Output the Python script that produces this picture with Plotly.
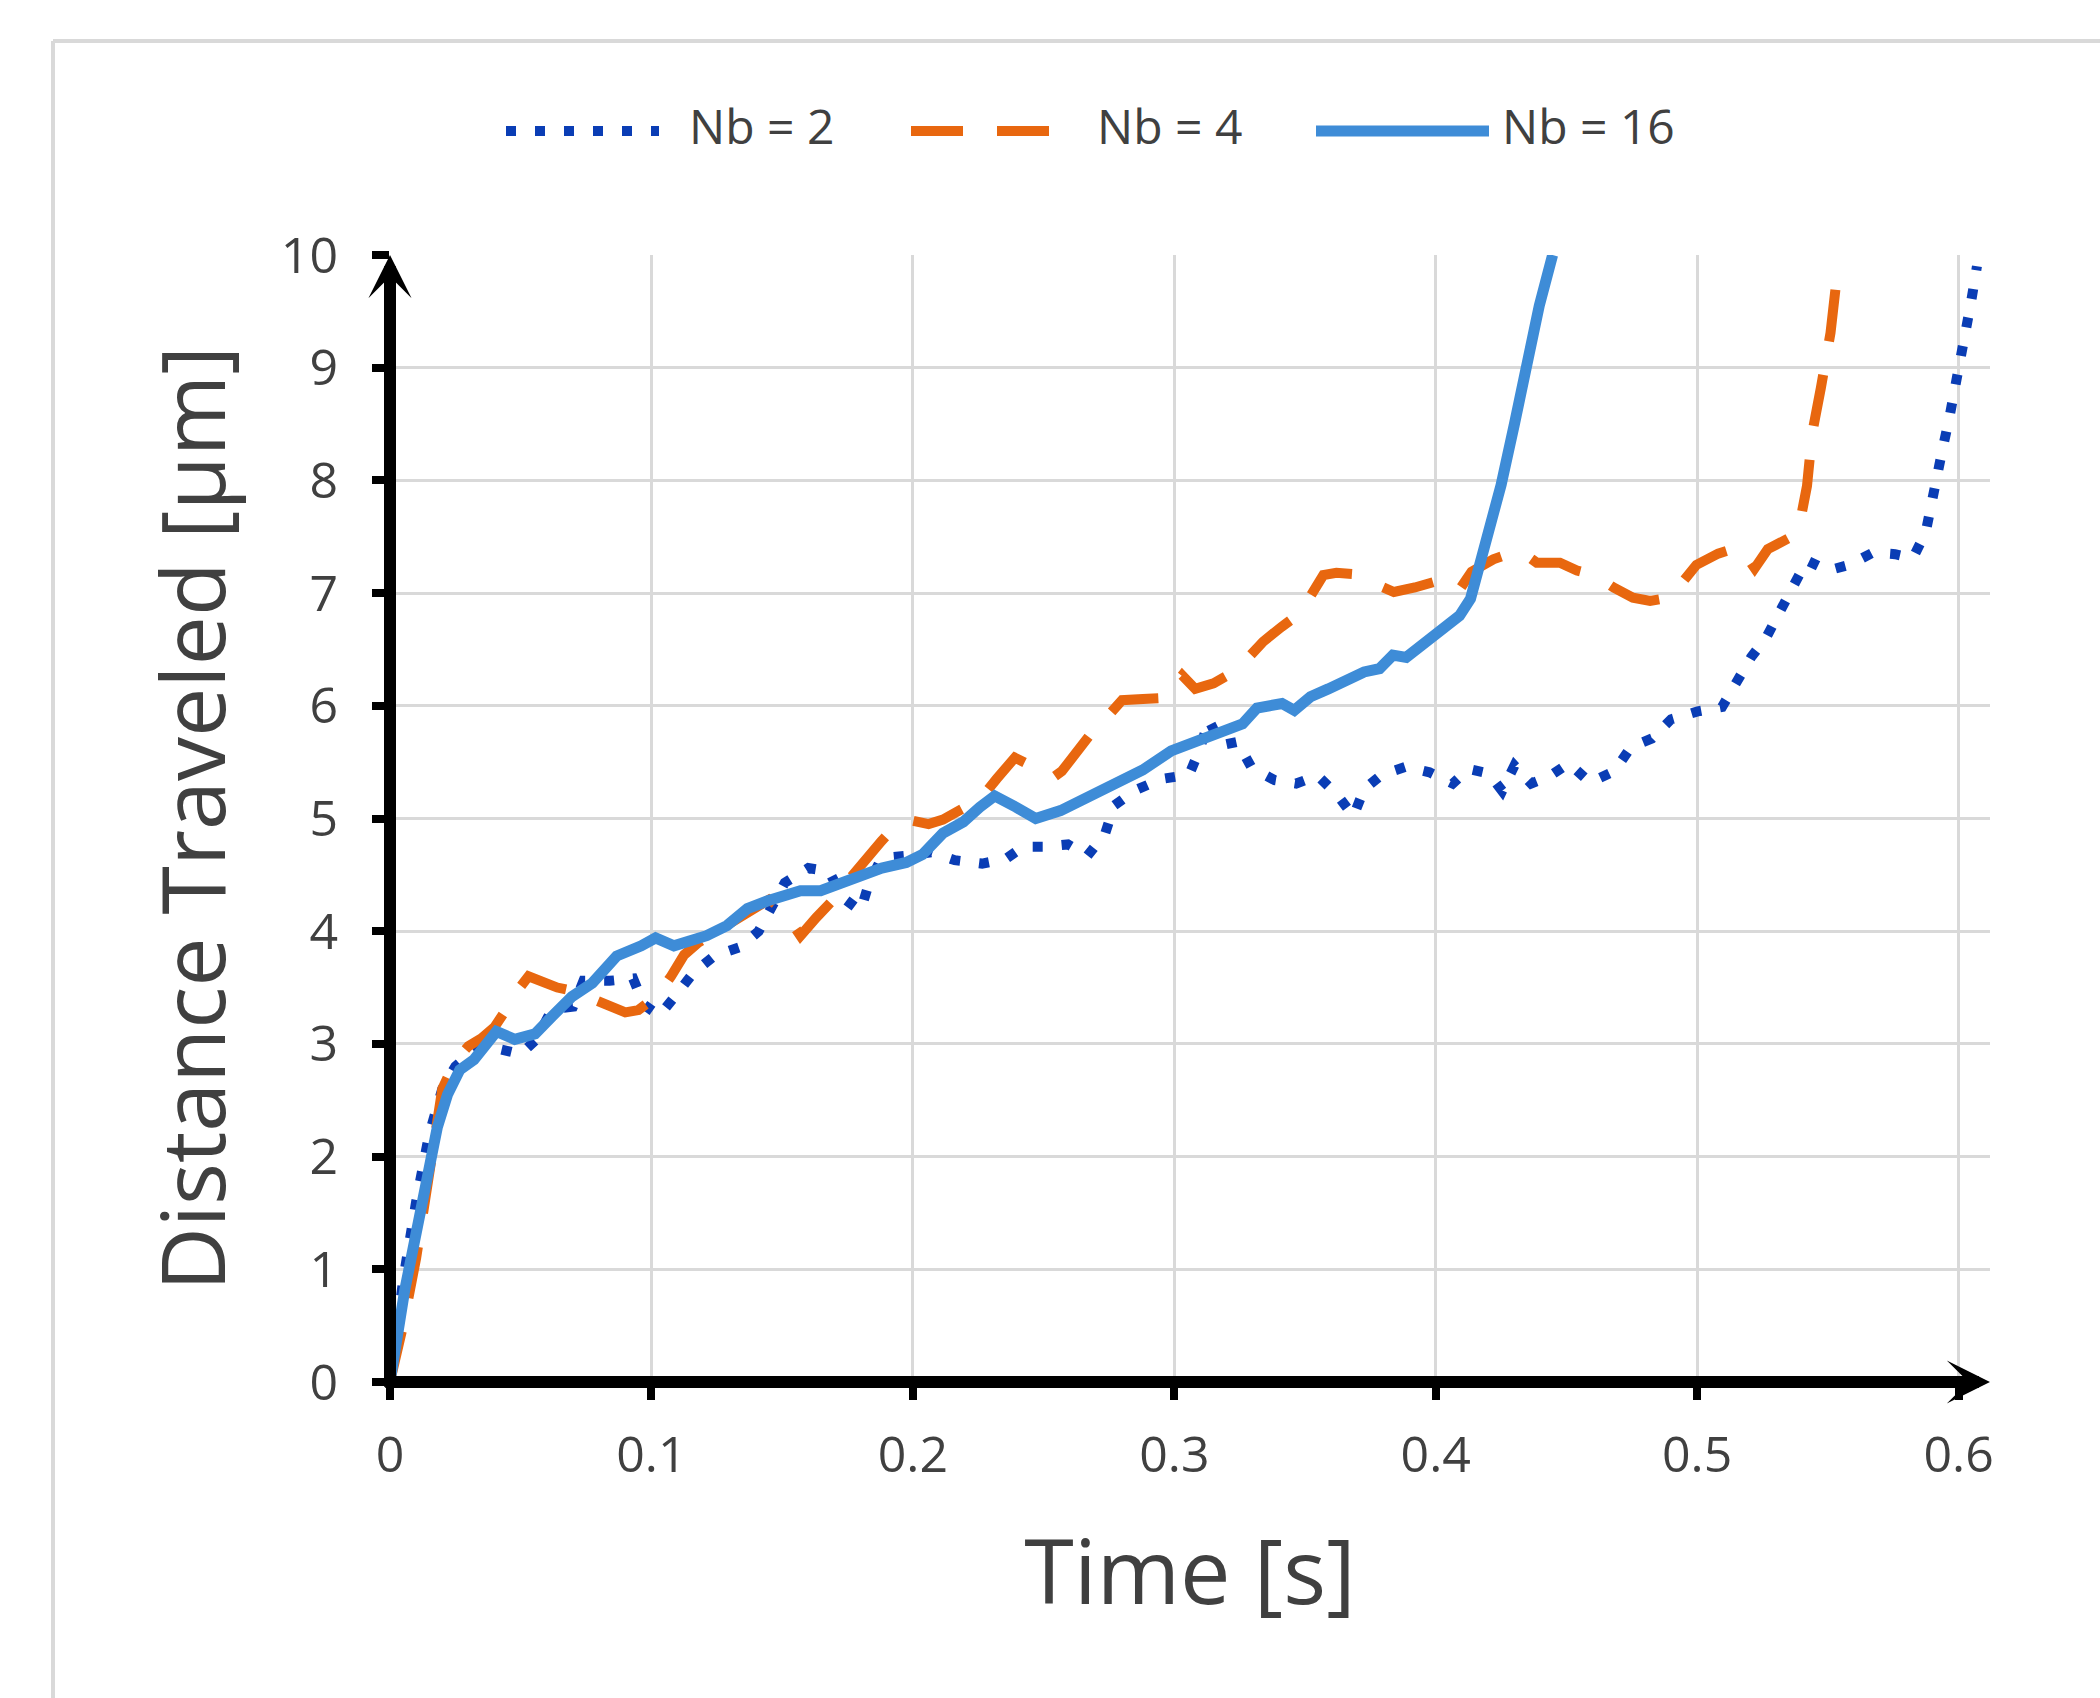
import plotly.graph_objects as go

# ---------------- data ----------------
t_nb2 = [0, 0.005, 0.01, 0.015, 0.02, 0.025, 0.03, 0.035, 0.039, 0.050, 0.056, 0.062, 0.070,
         0.074, 0.084, 0.093, 0.097, 0.103, 0.110, 0.116, 0.124, 0.134, 0.141, 0.146, 0.151,
         0.160, 0.168, 0.173, 0.180, 0.183, 0.188, 0.198, 0.207, 0.216, 0.2265, 0.2354, 0.2422,
         0.2504, 0.2593, 0.2668, 0.2736, 0.277, 0.285, 0.295, 0.3057, 0.3098, 0.3132, 0.318,
         0.3241, 0.3296, 0.3384, 0.3466, 0.3548, 0.3623, 0.3685, 0.3726, 0.3794, 0.3887, 0.3976,
         0.4065, 0.4126, 0.4203, 0.4254, 0.4301, 0.4365, 0.4432, 0.4509, 0.459, 0.4683, 0.4747,
         0.4827, 0.49, 0.5002, 0.5095, 0.5151, 0.5206, 0.5265, 0.5314, 0.5367, 0.542, 0.5501,
         0.5581, 0.5673, 0.5757, 0.5825, 0.5874, 0.5899, 0.5922, 0.594, 0.5964, 0.5986, 0.6005,
         0.6024, 0.6045, 0.6064, 0.607]
d_nb2 = [0, 0.9, 1.6, 2.2, 2.6, 2.8, 2.9, 2.97, 2.97, 2.91, 3.04, 3.31, 3.33,
         3.56, 3.56, 3.58, 3.35, 3.25, 3.45, 3.63, 3.78, 3.86, 4.0, 4.2, 4.43,
         4.56, 4.53, 4.30, 4.18, 4.41, 4.65, 4.67, 4.7, 4.63, 4.6, 4.64, 4.75,
         4.75, 4.77, 4.67, 4.87, 5.115, 5.25, 5.35, 5.39, 5.62, 5.875, 5.65,
         5.68, 5.45, 5.34, 5.31, 5.38, 5.21, 5.02, 5.26, 5.39, 5.46, 5.41,
         5.31, 5.44, 5.40, 5.245, 5.47, 5.31, 5.37, 5.49, 5.32, 5.42, 5.635,
         5.71, 5.88, 5.95, 5.99, 6.22, 6.43, 6.61, 6.85, 7.06, 7.29, 7.20,
         7.25, 7.36, 7.345, 7.31, 7.54, 7.79, 8.04, 8.295, 8.55, 8.80, 9.04,
         9.30, 9.55, 9.81, 9.9]

t_nb4 = [0, 0.005, 0.01, 0.015, 0.02, 0.025, 0.03, 0.035, 0.04, 0.044, 0.048, 0.053, 0.058,
         0.064, 0.07, 0.078, 0.085, 0.09, 0.095, 0.1, 0.1024, 0.1075, 0.1125, 0.118, 0.125,
         0.132, 0.138, 0.145, 0.15, 0.153, 0.157, 0.163, 0.170, 0.176, 0.182, 0.188, 0.194,
         0.2, 0.206, 0.2115, 0.2185, 0.2257, 0.232, 0.239, 0.246, 0.254, 0.257, 0.263, 0.269,
         0.275, 0.280, 0.288, 0.296, 0.303, 0.308, 0.315, 0.322, 0.328, 0.334, 0.341, 0.348,
         0.357, 0.362, 0.368, 0.376, 0.384, 0.392, 0.401, 0.4085, 0.4137, 0.422, 0.432, 0.4386,
         0.4475, 0.454, 0.4608, 0.468, 0.4754, 0.482, 0.4895, 0.4997, 0.508, 0.5163, 0.522,
         0.527, 0.533, 0.5385, 0.542, 0.544, 0.5473, 0.551, 0.553, 0.555]
d_nb4 = [0, 0.5, 1.1, 1.9, 2.6, 2.85, 2.98, 3.05, 3.15, 3.29, 3.45, 3.6, 3.55,
         3.5, 3.47, 3.4, 3.33, 3.28, 3.3, 3.38, 3.43, 3.6, 3.79, 3.9, 4.0,
         4.1, 4.2, 4.28, 4.2, 4.1, 3.96, 4.12, 4.29, 4.47, 4.65, 4.8, 4.95,
         4.98, 4.95, 4.99, 5.08, 5.17, 5.35, 5.54, 5.46, 5.37, 5.42, 5.6, 5.78,
         5.92, 6.05, 6.06, 6.07, 6.27, 6.15, 6.2, 6.29, 6.42, 6.57, 6.7, 6.82,
         7.16, 7.18, 7.17, 7.08, 7.01, 7.05, 7.11, 7.01, 7.19, 7.3, 7.38, 7.27,
         7.27, 7.2, 7.16, 7.05, 6.96, 6.93, 6.96, 7.25, 7.35, 7.41, 7.22,
         7.39, 7.47, 7.53, 7.95, 8.42, 8.82, 9.31, 9.72, 9.9]

t_nb16 = [0, 0.0056, 0.0119, 0.0181, 0.022, 0.0267, 0.0321, 0.0407, 0.0477, 0.0555, 0.0618,
          0.0696, 0.0774, 0.0867, 0.0961, 0.1016, 0.1086, 0.1148, 0.1211, 0.1289, 0.1367,
          0.1445, 0.1507, 0.157, 0.1647, 0.1725, 0.1803, 0.1881, 0.1975, 0.2037, 0.2115,
          0.2193, 0.2256, 0.2313, 0.2395, 0.247, 0.2565, 0.2674, 0.277, 0.2879, 0.2988, 0.307,
          0.318, 0.3261, 0.3316, 0.3412, 0.3459, 0.3521, 0.3589, 0.3657, 0.3726, 0.3785,
          0.3836, 0.3887, 0.3951, 0.4014, 0.4091, 0.4133, 0.4177, 0.4215, 0.425, 0.4301,
          0.4345, 0.4396, 0.4447]
d_nb16 = [0, 0.81, 1.54, 2.26, 2.55, 2.77, 2.86, 3.11, 3.04, 3.09, 3.24,
          3.42, 3.54, 3.78, 3.87, 3.94, 3.87, 3.92, 3.96, 4.05, 4.2,
          4.27, 4.32, 4.36, 4.36, 4.43, 4.5, 4.56, 4.61, 4.68, 4.87,
          4.97, 5.1, 5.2, 5.1, 5.0, 5.07, 5.19, 5.3, 5.43, 5.6, 5.67,
          5.76, 5.84, 5.98, 6.02, 5.96, 6.08, 6.15, 6.22, 6.3, 6.33,
          6.45, 6.43, 6.54, 6.66, 6.8, 6.95, 7.3, 7.6, 7.96, 8.5,
          9.01, 9.55, 10.0]

series_names = ["Nb = 2", "Nb = 4", "Nb = 16"]
x_ticks = [0, 0.1, 0.2, 0.3, 0.4, 0.5, 0.6]
x_tick_text = ["0", "0.1", "0.2", "0.3", "0.4", "0.5", "0.6"]
y_ticks = [0, 1, 2, 3, 4, 5, 6, 7, 8, 9, 10]
x_title = "Time [s]"
y_title = "Distance Traveled [µm]"

# ---------------- styles ----------------
C_NB2 = "#0a3db5"
C_NB4 = "#e8670f"
C_NB16 = "#3e8cd7"
DASH_NB2 = "10px,19px"
DASH_NB4 = "52px,34px"
LW = 10
FONT = "Open Sans, Noto Sans, DejaVu Sans, sans-serif"
TXT = "#404040"
X_MAX = 0.612
Y_MAX = 10
AX_W = 12

fig = go.Figure()
fig.add_trace(go.Scatter(x=t_nb2, y=d_nb2, mode="lines", name=series_names[0],
                         line=dict(color=C_NB2, width=LW, dash=DASH_NB2)))
fig.add_trace(go.Scatter(x=t_nb4, y=d_nb4, mode="lines", name=series_names[1],
                         line=dict(color=C_NB4, width=LW, dash=DASH_NB4)))
fig.add_trace(go.Scatter(x=t_nb16, y=d_nb16, mode="lines", name=series_names[2],
                         line=dict(color=C_NB16, width=11)))

axis_common = dict(
    showgrid=True, gridcolor="#d9d9d9", gridwidth=3,
    showline=False,
    ticks="outside", ticklen=17, tickwidth=8, tickcolor="black",
    zeroline=False, tickfont=dict(family=FONT, size=50, color=TXT),
)

fig.update_layout(
    width=2100, height=1698,
    margin=dict(l=390, r=110, t=255, b=316),
    paper_bgcolor="white", plot_bgcolor="white",
    showlegend=False, hovermode=False,
    font=dict(family=FONT, color=TXT),
    xaxis=dict(range=[0, X_MAX], tickvals=x_ticks, ticktext=x_tick_text,
               ticklabelstandoff=12,
               title=dict(text=x_title, font=dict(family=FONT, size=90, color=TXT), standoff=54),
               **axis_common),
    yaxis=dict(range=[0, Y_MAX], tickvals=y_ticks, ticklabelstandoff=24,
               title=dict(text=y_title, font=dict(family=FONT, size=88, color=TXT), standoff=26),
               **axis_common),
)

# axis lines with arrowheads, centred on the zero of the other axis
fig.add_annotation(x=0, y=Y_MAX, ax=0, ay=-0.055, xref="x", yref="y", axref="x", ayref="y",
                   text="", showarrow=True, arrowhead=3, arrowwidth=AX_W, arrowsize=0.6,
                   arrowcolor="black")
fig.add_annotation(x=X_MAX, y=0, ax=-0.0024, ay=0, xref="x", yref="y", axref="x", ayref="y",
                   text="", showarrow=True, arrowhead=3, arrowwidth=AX_W, arrowsize=0.6,
                   arrowcolor="black")

# outer frame (top and left border of the card)
def px_x(p):
    return (p - 390) / 1600.0

def px_y(p):
    return (1382 - p) / 1127.0

fig.add_shape(type="line", xref="paper", yref="paper", x0=px_x(53), x1=px_x(2110),
              y0=px_y(41), y1=px_y(41), line=dict(color="#d9d9d9", width=4))
fig.add_shape(type="line", xref="paper", yref="paper", x0=px_x(53), x1=px_x(53),
              y0=px_y(41), y1=px_y(1710), line=dict(color="#d9d9d9", width=4))

# custom legend (long sample lines like the reference)
leg_line_y = px_y(131)
leg_text_y = px_y(125)
legend_items = [
    (506, 659, 687, C_NB2, DASH_NB2, LW),
    (911, 1067, 1095, C_NB4, DASH_NB4, LW),
    (1316, 1489, 1500, C_NB16, "solid", 11),
]
for (x0, x1, xt, col, dash, w), name in zip(legend_items, series_names):
    fig.add_shape(type="line", xref="paper", yref="paper", x0=px_x(x0), x1=px_x(x1),
                  y0=leg_line_y, y1=leg_line_y, line=dict(color=col, width=w, dash=dash))
    fig.add_annotation(x=px_x(xt), y=leg_text_y, xref="paper", yref="paper", text=name,
                       showarrow=False, xanchor="left", yanchor="middle",
                       font=dict(family=FONT, size=48, color=TXT))

fig.write_html("out.html", config={"displayModeBar": False},
               post_script="document.body.style.margin='0px';")
